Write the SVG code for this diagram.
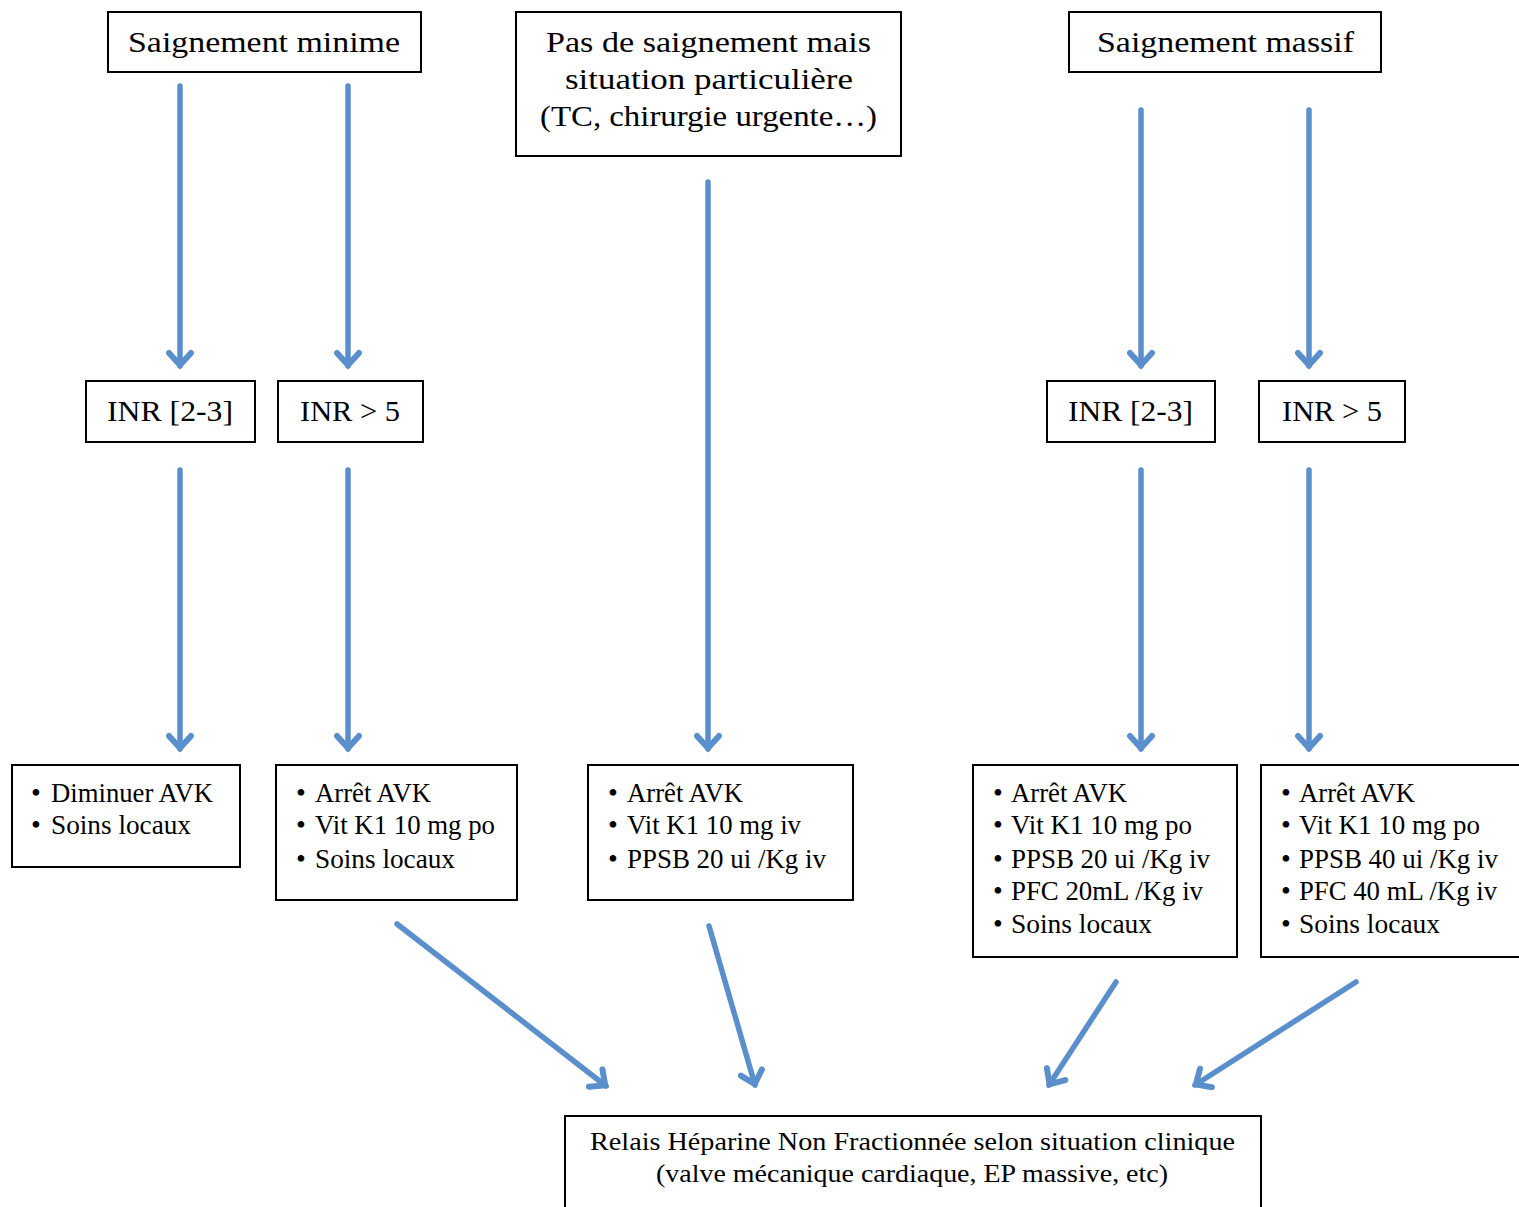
<svg xmlns="http://www.w3.org/2000/svg" width="1519" height="1207" viewBox="0 0 1519 1207">
<defs>
<style>
.box{fill:#fff;stroke:#000;stroke-width:2}
.t{font-family:"Liberation Serif","Times New Roman",serif;font-size:30px;fill:#000}
.b{font-family:"Liberation Serif","Times New Roman",serif;font-size:28px;fill:#000}
.s{font-family:"Liberation Serif","Times New Roman",serif;font-size:26px;fill:#000}
.c{stroke:#5A8FCB;stroke-width:5.5;fill:none;stroke-linecap:round}
</style>
<marker id="ah" viewBox="-18 -14 22 28" refX="0" refY="0" markerWidth="22" markerHeight="28" markerUnits="userSpaceOnUse" orient="auto">
<polyline points="-13,-11 -1,0 -13,11" fill="none" stroke="#5A8FCB" stroke-width="6" stroke-linecap="round" stroke-linejoin="miter"/>
</marker>
</defs>
<rect width="1519" height="1207" fill="#fff"/>
<g id="connectors">
<line class="c" x1="180" y1="86" x2="180" y2="366" marker-end="url(#ah)"/>
<line class="c" x1="348" y1="86" x2="348" y2="366" marker-end="url(#ah)"/>
<line class="c" x1="708" y1="182" x2="708" y2="749" marker-end="url(#ah)"/>
<line class="c" x1="1141" y1="110" x2="1141" y2="366" marker-end="url(#ah)"/>
<line class="c" x1="1309" y1="110" x2="1309" y2="366" marker-end="url(#ah)"/>
<line class="c" x1="180" y1="470" x2="180" y2="749" marker-end="url(#ah)"/>
<line class="c" x1="348" y1="470" x2="348" y2="749" marker-end="url(#ah)"/>
<line class="c" x1="1141" y1="470" x2="1141" y2="749" marker-end="url(#ah)"/>
<line class="c" x1="1309" y1="470" x2="1309" y2="749" marker-end="url(#ah)"/>
<line class="c" x1="397" y1="924" x2="606" y2="1086" marker-end="url(#ah)"/>
<line class="c" x1="709" y1="926" x2="755" y2="1085" marker-end="url(#ah)"/>
<line class="c" x1="1116" y1="982" x2="1049" y2="1085" marker-end="url(#ah)"/>
<line class="c" x1="1356" y1="982" x2="1195" y2="1085" marker-end="url(#ah)"/>
</g>
<g id="n-minime">
<rect class="box" x="108" y="12" width="313" height="60"/>
<text class="t" x="128" y="52" textLength="272" lengthAdjust="spacingAndGlyphs">Saignement minime</text>
</g>
<g id="n-particuliere">
<rect class="box" x="516" y="12" width="385" height="144"/>
<text class="t" x="546" y="52" textLength="325" lengthAdjust="spacingAndGlyphs">Pas de saignement mais</text>
<text class="t" x="565" y="89" textLength="288" lengthAdjust="spacingAndGlyphs">situation particulière</text>
<text class="t" x="540" y="126" textLength="337" lengthAdjust="spacingAndGlyphs">(TC, chirurgie urgente…)</text>
</g>
<g id="n-massif">
<rect class="box" x="1069" y="12" width="312" height="60"/>
<text class="t" x="1097" y="52" textLength="257" lengthAdjust="spacingAndGlyphs">Saignement massif</text>
</g>
<g id="n-inr1">
<rect class="box" x="86" y="381" width="169" height="61"/>
<text class="t" x="107" y="421" textLength="126" lengthAdjust="spacingAndGlyphs">INR [2-3]</text>
</g>
<g id="n-inr2">
<rect class="box" x="278" y="381" width="145" height="61"/>
<text class="t" x="300" y="421" textLength="100" lengthAdjust="spacingAndGlyphs">INR &gt; 5</text>
</g>
<g id="n-inr3">
<rect class="box" x="1047" y="381" width="168" height="61"/>
<text class="t" x="1068" y="421" textLength="125" lengthAdjust="spacingAndGlyphs">INR [2-3]</text>
</g>
<g id="n-inr4">
<rect class="box" x="1259" y="381" width="146" height="61"/>
<text class="t" x="1282" y="421" textLength="100" lengthAdjust="spacingAndGlyphs">INR &gt; 5</text>
</g>
<g id="n-b1">
<rect class="box" x="12" y="765" width="228" height="102"/>
<text class="b" x="31" y="802">•</text><text class="b" x="51" y="802" textLength="162" lengthAdjust="spacingAndGlyphs">Diminuer AVK</text>
<text class="b" x="31" y="834">•</text><text class="b" x="51" y="834" textLength="140" lengthAdjust="spacingAndGlyphs">Soins locaux</text>
</g>
<g id="n-b2">
<rect class="box" x="276" y="765" width="241" height="135"/>
<text class="b" x="296" y="802">•</text><text class="b" x="315" y="802" textLength="116" lengthAdjust="spacingAndGlyphs">Arrêt AVK</text>
<text class="b" x="296" y="834">•</text><text class="b" x="315" y="834" textLength="180" lengthAdjust="spacingAndGlyphs">Vit K1 10 mg po</text>
<text class="b" x="296" y="868">•</text><text class="b" x="315" y="868" textLength="140" lengthAdjust="spacingAndGlyphs">Soins locaux</text>
</g>
<g id="n-b3">
<rect class="box" x="588" y="765" width="265" height="135"/>
<text class="b" x="608" y="802">•</text><text class="b" x="627" y="802" textLength="116" lengthAdjust="spacingAndGlyphs">Arrêt AVK</text>
<text class="b" x="608" y="834">•</text><text class="b" x="627" y="834" textLength="174" lengthAdjust="spacingAndGlyphs">Vit K1 10 mg iv</text>
<text class="b" x="608" y="868">•</text><text class="b" x="627" y="868" textLength="199" lengthAdjust="spacingAndGlyphs">PPSB 20 ui /Kg iv</text>
</g>
<g id="n-b4">
<rect class="box" x="973" y="765" width="264" height="192"/>
<text class="b" x="993" y="802">•</text><text class="b" x="1011" y="802" textLength="116" lengthAdjust="spacingAndGlyphs">Arrêt AVK</text>
<text class="b" x="993" y="834">•</text><text class="b" x="1011" y="834" textLength="181" lengthAdjust="spacingAndGlyphs">Vit K1 10 mg po</text>
<text class="b" x="993" y="868">•</text><text class="b" x="1011" y="868" textLength="199" lengthAdjust="spacingAndGlyphs">PPSB 20 ui /Kg iv</text>
<text class="b" x="993" y="900">•</text><text class="b" x="1011" y="900" textLength="192" lengthAdjust="spacingAndGlyphs">PFC 20mL /Kg iv</text>
<text class="b" x="993" y="933">•</text><text class="b" x="1011" y="933" textLength="141" lengthAdjust="spacingAndGlyphs">Soins locaux</text>
</g>
<g id="n-b5">
<rect class="box" x="1261" y="765" width="262" height="192"/>
<text class="b" x="1281" y="802">•</text><text class="b" x="1299" y="802" textLength="116" lengthAdjust="spacingAndGlyphs">Arrêt AVK</text>
<text class="b" x="1281" y="834">•</text><text class="b" x="1299" y="834" textLength="181" lengthAdjust="spacingAndGlyphs">Vit K1 10 mg po</text>
<text class="b" x="1281" y="868">•</text><text class="b" x="1299" y="868" textLength="199" lengthAdjust="spacingAndGlyphs">PPSB 40 ui /Kg iv</text>
<text class="b" x="1281" y="900">•</text><text class="b" x="1299" y="900" textLength="198" lengthAdjust="spacingAndGlyphs">PFC 40 mL /Kg iv</text>
<text class="b" x="1281" y="933">•</text><text class="b" x="1299" y="933" textLength="141" lengthAdjust="spacingAndGlyphs">Soins locaux</text>
</g>
<g id="n-relais">
<rect class="box" x="565" y="1116" width="696" height="100"/>
<text class="s" x="590" y="1150" textLength="645" lengthAdjust="spacingAndGlyphs">Relais Héparine Non Fractionnée selon situation clinique</text>
<text class="s" x="656" y="1182" textLength="512" lengthAdjust="spacingAndGlyphs">(valve mécanique cardiaque, EP massive, etc)</text>
</g>
</svg>
